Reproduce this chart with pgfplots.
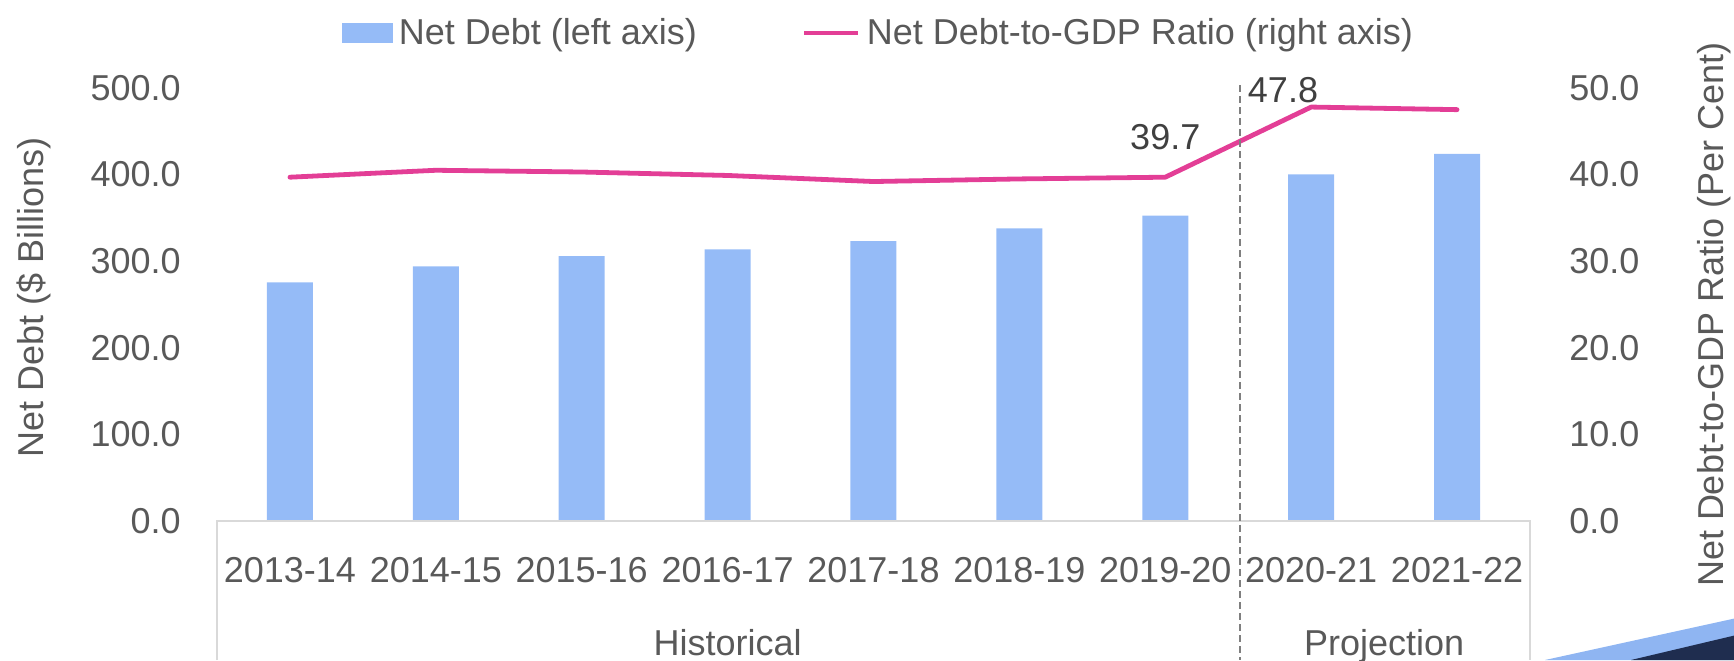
\documentclass[border=0pt]{standalone}
\usepackage{fontspec}
\setmainfont{Liberation Sans}
\usepackage{pgfplots}
\pgfplotsset{compat=1.18}
\definecolor{barblue}{HTML}{95BBF7}
\definecolor{linepink}{HTML}{E33E96}
\definecolor{txtgray}{HTML}{595959}
\definecolor{lblgray}{HTML}{404040}
\definecolor{boxgray}{HTML}{D9D9D9}
\definecolor{dashgray}{HTML}{7F7F7F}
\definecolor{navy}{HTML}{1F2D4F}
\definecolor{decoblue}{HTML}{8FB5F2}
\newcommand\myf{\fontsize{18}{21.6}\selectfont}
\begin{document}
\begin{tikzpicture}[font=\myf]
\path[use as bounding box] (-108.5pt,-69.5pt) rectangle (758.5pt,260.5pt);
\begin{axis}[
  at={(0pt,0pt)}, anchor=south west,
  scale only axis, width=656.5pt, height=216.5pt,
  xmin=-0.5, xmax=8.5, ymin=0, ymax=500,
  ytick={0,100,...,500},
  xtick={0,...,8},
  xticklabels={2013-14,2014-15,2015-16,2016-17,2017-18,2018-19,2019-20,2020-21,2021-22},
  axis line style={draw=none},
  major tick length=0pt,
  tick label style={font=\myf, text=txtgray},
  /pgf/number format/assume math mode=true,
  yticklabel style={/pgf/number format/fixed, /pgf/number format/fixed zerofill, /pgf/number format/precision=1, anchor=east, inner sep=0pt, xshift=-18pt},
  xticklabel style={anchor=north, inner sep=0pt, yshift=-18pt},
  ylabel={Net Debt (\$ Billions)},
  ylabel style={at={(axis description cs:-0.1394,0.516)}, anchor=center, font=\myf, text=txtgray},
  ybar, bar width=23pt,
  clip=false,
  legend style={at={(0.503,1.127)}, anchor=center, draw=none, fill=none, font=\myf, text=txtgray, legend columns=2, nodes={inner sep=0pt}, /tikz/every even column/.append style={column sep=52.5pt}, /tikz/every odd column/.append style={column sep=3pt}},
]
\addplot[fill=barblue, draw=none, legend image code/.code={\fill[barblue] (0pt,-5pt) rectangle (25.5pt,5pt);}] coordinates {
(0,275.6) (1,294.0) (2,306.0) (3,313.7) (4,323.3) (5,338.0) (6,352.5) (7,400.3) (8,424.0)};
\addlegendentry{Net Debt (left axis)}
\addlegendimage{legend image code/.code={\draw[linepink, line width=2.4pt] (0pt,0pt) -- (27pt,0pt);}}
\addlegendentry{Net Debt-to-GDP Ratio (right axis)}
\node[anchor=base, text=txtgray] at ([yshift=-67pt]axis cs:3,0) {Historical};
\node[anchor=base, text=txtgray] at ([yshift=-67pt]axis cs:7.5,0) {Projection};
\end{axis}
\begin{axis}[
  at={(0pt,0pt)}, anchor=south west,
  scale only axis, width=656.5pt, height=216.5pt,
  xmin=-0.5, xmax=8.5, ymin=0, ymax=50,
  axis x line=none,
  axis y line*=right,
  axis line style={draw=none},
  ytick={0,10,...,50},
  major tick length=0pt,
  tick label style={font=\myf, text=txtgray},
  /pgf/number format/assume math mode=true,
  yticklabel style={/pgf/number format/fixed, /pgf/number format/fixed zerofill, /pgf/number format/precision=1, anchor=west, inner sep=0pt, xshift=19.5pt},
  ylabel={Net Debt-to-GDP Ratio (Per Cent)},
  ylabel style={at={(axis description cs:1.1401,0.476)}, anchor=center, font=\myf, text=txtgray},
  clip=false,
]
\addplot[linepink, line width=2.4pt, line join=round, line cap=round, mark=none] coordinates {
(0,39.7) (1,40.5) (2,40.3) (3,39.9) (4,39.2) (5,39.5) (6,39.7) (7,47.8) (8,47.5)};
\node[text=lblgray, anchor=center, inner sep=0pt] at (axis cs:6.0,44.3) {39.7};
\node[text=lblgray, anchor=center, inner sep=0pt] at (axis cs:6.807,49.77) {47.8};
\end{axis}
\draw[boxgray, line width=0.75pt] (0pt,-69.5pt) -- (0pt,0pt) -- (656.5pt,0pt) -- (656.5pt,-69.5pt);
\draw[dashgray, line width=0.6pt, dash pattern=on 3.5pt off 2pt] (511.5pt,218pt) -- (511.5pt,-69.5pt);
\fill[decoblue] (664pt,-69.5pt) -- (758.5pt,-48.8pt) -- (758.5pt,-69.5pt) -- cycle;
\fill[navy] (707pt,-69.5pt) -- (758.5pt,-57.3pt) -- (758.5pt,-69.5pt) -- cycle;
\end{tikzpicture}
\end{document}
